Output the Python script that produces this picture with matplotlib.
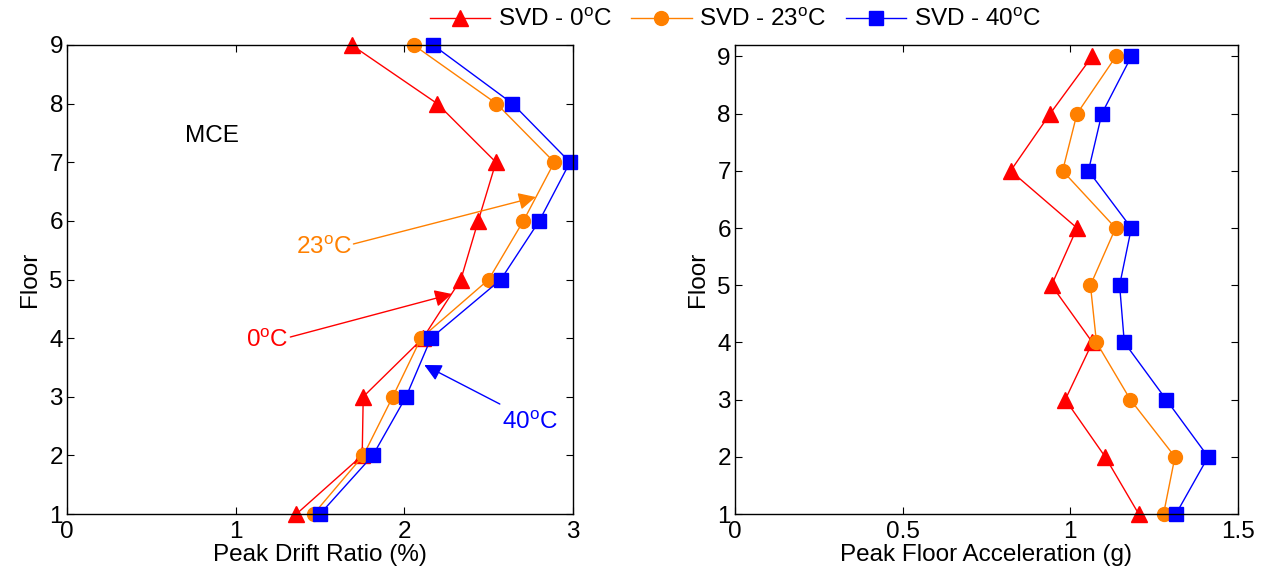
import matplotlib
matplotlib.use("Agg")
import matplotlib.pyplot as plt

plt.rcParams['font.family'] = ['Liberation Sans', 'DejaVu Sans']
plt.rcParams['mathtext.fontset'] = 'custom'
plt.rcParams['mathtext.rm'] = 'Liberation Sans'

floors = [1, 2, 3, 4, 5, 6, 7, 8, 9]

# Peak drift ratio (%)
drift_0 = [1.36, 1.75, 1.756, 2.11, 2.335, 2.438, 2.543, 2.195, 1.687]
drift_23 = [1.462, 1.757, 1.931, 2.099, 2.50, 2.706, 2.889, 2.546, 2.055]
drift_40 = [1.50, 1.813, 2.010, 2.158, 2.572, 2.80, 2.982, 2.641, 2.17]

# Peak floor acceleration (g)
acc_0 = [1.204, 1.104, 0.985, 1.066, 0.944, 1.020, 0.822, 0.940, 1.065]
acc_23 = [1.278, 1.312, 1.179, 1.078, 1.060, 1.135, 0.977, 1.020, 1.136]
acc_40 = [1.315, 1.411, 1.286, 1.161, 1.147, 1.182, 1.054, 1.094, 1.182]

labels = ['SVD - 0$^{\\mathregular{o}}$C', 'SVD - 23$^{\\mathregular{o}}$C', 'SVD - 40$^{\\mathregular{o}}$C']
colors = ['#FF0000', '#FF8000', '#0000FF']
markers = ['^', 'o', 's']
msizes = [11, 10, 9.5]

FS = 17.5

fig = plt.figure(figsize=(12.7, 5.71), dpi=100)
ax1 = fig.add_axes([0.0528, 0.0998, 0.3984, 0.8214])
ax2 = fig.add_axes([0.5787, 0.0998, 0.3961, 0.8214])

handles = []
for d, c, m, ms, lab in zip([drift_0, drift_23, drift_40], colors, markers, msizes, labels):
    h, = ax1.plot(d, floors, color=c, marker=m, markersize=ms, lw=1.0, label=lab,
                  markeredgecolor=c, markerfacecolor=c, clip_on=False)
    handles.append(h)
for a, c, m, ms in zip([acc_0, acc_23, acc_40], colors, markers, msizes):
    ax2.plot(a, floors, color=c, marker=m, markersize=ms, lw=1.0,
             markeredgecolor=c, markerfacecolor=c, clip_on=False)

ax1.set_xlim(0, 3)
ax1.set_ylim(1, 9)
ax1.set_xticks([0, 1, 2, 3])
ax1.set_yticks(floors)
ax2.set_xlim(0, 1.5)
ax2.set_ylim(1, 9.2)
ax2.set_xticks([0, 0.5, 1, 1.5])
ax2.set_xticklabels(['0', '0.5', '1', '1.5'])
ax2.set_yticks(floors)

for ax in (ax1, ax2):
    ax.tick_params(direction='in', top=True, right=True, length=5, width=0.8,
                   labelsize=FS)
    ax.tick_params(axis='x', pad=5)
    ax.tick_params(axis='y', pad=3)
    for s in ax.spines.values():
        s.set_linewidth(1.0)
    ax.set_ylabel('Floor', fontsize=FS, labelpad=6)

ax1.set_xlabel('Peak Drift Ratio (%)', fontsize=FS, labelpad=1)
ax2.set_xlabel('Peak Floor Acceleration (g)', fontsize=FS, labelpad=1)

# annotations
ax1.text(0.70, 7.45, 'MCE', fontsize=FS, ha='left', va='center', color='black')
ax1.text(1.69, 5.55, '23$^{\\mathregular{o}}$C', fontsize=FS, ha='right', va='center', color=colors[1])
ax1.text(1.315, 3.96, '0$^{\\mathregular{o}}$C', fontsize=FS, ha='right', va='center', color=colors[0])
ax1.text(2.58, 2.56, '40$^{\\mathregular{o}}$C', fontsize=FS, ha='left', va='center', color=colors[2])

arr = dict(arrowstyle='-|>', lw=1.0, mutation_scale=26, shrinkA=0, shrinkB=0)
ax1.annotate('', xy=(2.779, 6.407), xytext=(1.698, 5.606),
             arrowprops=dict(arr, color=colors[1]))
ax1.annotate('', xy=(2.282, 4.753), xytext=(1.324, 4.019),
             arrowprops=dict(arr, color=colors[0]))
ax1.annotate('', xy=(2.118, 3.542), xytext=(2.566, 2.876),
             arrowprops=dict(arr, color=colors[2]))

fig.legend(handles=handles, loc='center', bbox_to_anchor=(0.579, 0.965), ncol=3,
           frameon=False, fontsize=FS, handlelength=2.5, handletextpad=0.3,
           columnspacing=0.8, borderaxespad=0)

fig.savefig('out.png', dpi=100)
